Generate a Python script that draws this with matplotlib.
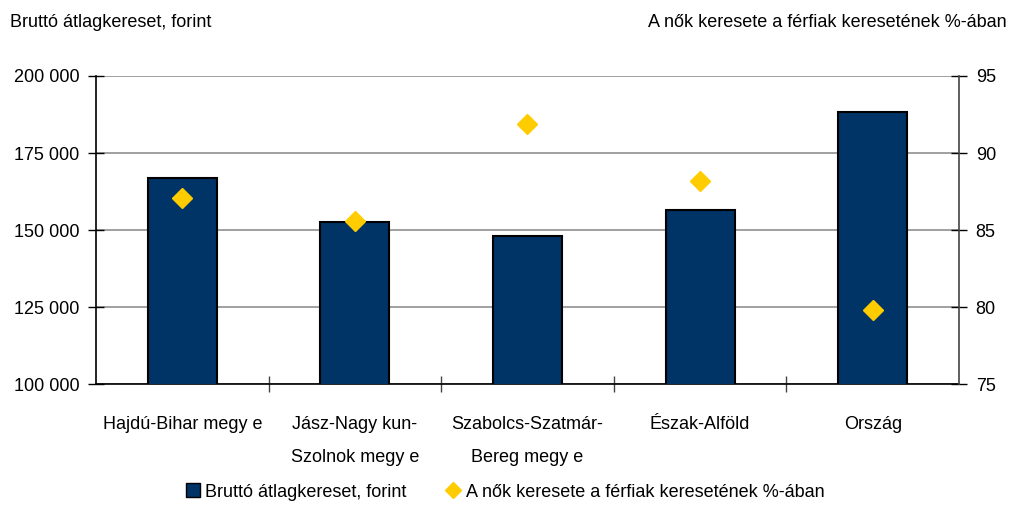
import numpy as np
import matplotlib
matplotlib.use("Agg")
from matplotlib import pyplot as plt
from matplotlib.lines import Line2D
from matplotlib.ticker import FuncFormatter, FixedLocator

plt.rcParams['font.family'] = ['Liberation Sans', 'DejaVu Sans']

# data
regions = ["Hajdú-Bihar megy e", "Jász-Nagy kun-\nSzolnok megy e",
           "Szabolcs-Szatmár-\nBereg megy e", "Észak-Alföld", "Ország"]
wages = [166800, 152500, 148200, 156500, 188300]
female_pct = [87.1, 85.6, 91.9, 88.2, 79.8]

wage_label = "Bruttó átlagkereset, forint"
pct_label = "A nők keresete a férfiak keresetének %-ában"

navy = "#003366"
gold = "#FFCC00"
fs = 13

fig = plt.figure(figsize=(10.1, 5.27), dpi=100)
ax = fig.add_axes([0.095, 0.2713, 0.8545, 0.5845])
x = np.arange(len(regions))

ax.bar(x, wages, width=0.4, color=navy, edgecolor="black", linewidth=1.5, zorder=3)
ax.set_xlim(-0.5, len(regions) - 0.5)
ax.set_ylim(100000, 200000)
ax.set_yticks(np.arange(100000, 200001, 25000))
ax.yaxis.set_major_formatter(FuncFormatter(lambda v, p: f"{int(v):,}".replace(",", " ")))
ax.grid(axis="y", color="#999999", linewidth=1.3, zorder=0)
ax.set_axisbelow(True)

ax.set_xticks(x)
ax.set_xticklabels(regions, linespacing=2.2, fontsize=fs)
ax.xaxis.set_minor_locator(FixedLocator(x[:-1] + 0.5))
ax.tick_params(axis="x", which="major", length=0, pad=23)
ax.tick_params(axis="x", which="minor", direction="inout", length=12, width=1, color="#444444")
ax.tick_params(axis="y", direction="inout", length=12, width=1, labelsize=fs, pad=6)

ax.spines["top"].set_visible(False)
ax.spines["right"].set_visible(False)
ax.spines["left"].set_linewidth(1.2)
ax.spines["bottom"].set_linewidth(1.2)

ax2 = ax.twinx()
ax2.plot(x, female_pct, linestyle="none", marker="D", markersize=10.5, color=gold,
         markeredgecolor=gold, zorder=5)
ax2.set_ylim(75, 95)
ax2.set_yticks(np.arange(75, 96, 5))
ax2.tick_params(axis="y", direction="inout", length=12, width=1, labelsize=fs, pad=6)
for s in ["top", "left", "bottom"]:
    ax2.spines[s].set_visible(False)
ax2.spines["right"].set_color("#444444")
ax2.spines["right"].set_linewidth(1.2)

fig.text(0.01, 0.958, wage_label, fontsize=fs, ha="left", va="center")
fig.text(0.997, 0.958, pct_label, fontsize=fs, ha="right", va="center")

handles = [
    Line2D([], [], linestyle="none", marker="s", markersize=10, color=navy, markeredgecolor="black"),
    Line2D([], [], linestyle="none", marker="D", markersize=8.5, color=gold, markeredgecolor=gold),
]
fig.legend(handles, [wage_label, pct_label], loc="center", bbox_to_anchor=(0.5, 0.066),
           ncol=2, frameon=False, fontsize=fs, handlelength=0.8, handletextpad=0.3,
           columnspacing=2.2)

fig.savefig("out.png", dpi=100, facecolor="white")
